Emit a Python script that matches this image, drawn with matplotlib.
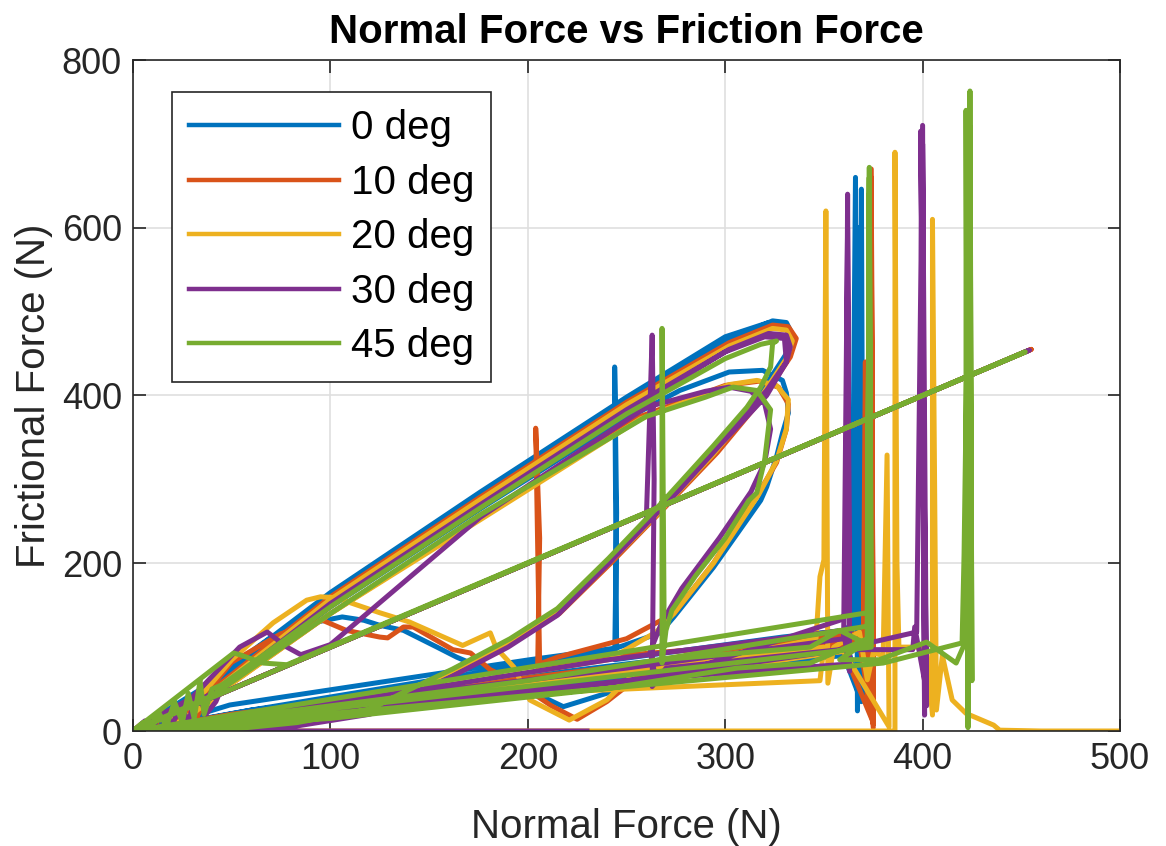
import matplotlib
matplotlib.use('Agg')
import matplotlib.pyplot as plt

plt.rcParams['font.family'] = ['Liberation Sans', 'DejaVu Sans']

# ---- data, Normal force (N) vs friction force (N) ----
labels = ['0 deg', '10 deg', '20 deg', '30 deg', '45 deg']
colors = ['#0072BD', '#D95319', '#EDB120', '#7E2F8E', '#77AC30']

deg0_x = [0, 6, 10, 16, 22, 28, 33, 38,
          45, 100, 176, 250, 302, 324, 331, 334, 331, 318, 294, 267, 241, 215, 191, 162, 137, 120, 83, 49, 20,
          30, 50, 70, 91, 106, 117, 125, 137, 154, 164, 176, 193, 218, 240, 255,
          300, 340, 364, 366, 367, 368, 369, 370, 362,
          241, 100, 30, 5,
          25, 45, 100, 176, 240, 277, 302, 319, 329, 331, 332, 329, 326, 321, 318, 294, 274, 267,
          240, 150, 60, 10,
          49, 201, 245, 244, 245, 244,
          329, 360, 366, 367, 368, 362, 241, 120, 0,
          453, 0,
          60, 250, 364, 368, 369, 360, 150, 0,
          40, 100, 176, 250, 300, 322, 330, 333, 330, 318, 294, 267, 241, 215, 191, 162, 137, 100, 0]
deg0_y = [0, 10, 2, 18, 6, 26, 12, 40,
          60, 163, 282, 396, 467, 489, 487, 473, 450, 403, 335, 267, 204, 144, 108, 73, 45, 25, 10, 2, 0,
          22, 78, 112, 129, 136, 132, 126, 120, 100, 88, 76, 57, 29, 45, 70,
          88, 104, 112, 660, 24, 200, 646, 41, 95,
          62, 22, 5, 0,
          20, 50, 148, 265, 360, 406, 428, 430, 418, 403, 379, 355, 327, 291, 275, 195, 136, 117,
          95, 60, 25, 3,
          31, 85, 99, 434, 260, 85,
          112, 120, 130, 600, 50, 100, 70, 35, 0,
          453, 0,
          25, 80, 110, 600, 35, 90, 40, 0,
          58, 165, 285, 398, 470, 487, 484, 470, 440, 400, 332, 264, 201, 141, 105, 70, 42, 18, 0]

deg10_x = [0, 5, 9, 14, 19, 25, 31, 36,
           45, 100, 176, 250, 302, 324, 332, 336, 333, 320, 296, 268, 242, 216, 190, 160, 135, 118, 80, 45, 15,
           30, 50, 75, 96, 108, 125, 129, 137, 142, 162, 171, 181, 195, 212, 225, 240, 258,
           320, 362, 370, 371, 372, 374, 375, 372,
           241, 120, 40, 0,
           40, 100, 176, 257, 300, 317, 327, 332, 331, 326, 316, 294, 274, 250, 215,
           206, 204, 206, 205,
           247, 300, 360, 372, 374, 375, 368, 241, 100, 0,
           455, 0,
           50, 250, 370, 374, 375, 360, 200, 0]
deg10_y = [0, 6, 1, 16, 4, 22, 9, 35,
           58, 160, 279, 392, 463, 484, 482, 468, 446, 400, 332, 263, 200, 140, 104, 70, 43, 24, 9, 2, 0,
           25, 82, 116, 132, 120, 112, 111, 124, 124, 97, 93, 73, 57, 30, 14, 35, 68,
           92, 108, 112, 440, 30, 670, 4, 100,
           70, 38, 12, 0,
           40, 140, 255, 375, 412, 417, 410, 390, 360, 320, 280, 200, 140, 110, 88,
           80, 361, 230, 76,
           90, 100, 114, 118, 660, 8, 105, 73, 30, 0,
           455, 0,
           20, 78, 116, 600, 10, 95, 55, 0]

deg20_x = [0, 4, 8, 13, 18, 24, 29, 34, 37,
           45, 100, 176, 250, 302, 324, 331, 334, 331, 318, 294, 267, 241, 215, 190, 160, 135, 118, 80, 45, 15,
           30, 45, 100, 176, 257, 302, 316, 326, 332, 331, 326, 317, 294, 274, 265,
           241, 120, 0,
           30, 50, 71, 88, 95, 103, 110, 125, 140, 167, 181, 184, 193, 198, 201, 221, 240, 257,
           326, 346, 348, 350, 351, 352, 355, 368, 372, 375, 380, 382, 383,
           360, 241, 100, 0,
           452, 0,
           60, 250, 350, 348, 200, 0,
           386, 386, 387, 388, 402, 405, 405, 407, 410, 415, 422, 436, 439, 460, 500]
deg20_y = [0, 8, 2, 20, 6, 28, 12, 40, 22,
           55, 157, 276, 389, 459, 480, 478, 465, 444, 398, 330, 262, 200, 140, 104, 70, 42, 23, 8, 1, 0,
           20, 48, 140, 252, 372, 413, 418, 412, 395, 360, 322, 282, 200, 140, 118,
           85, 40, 0,
           30, 85, 129, 156, 160, 159, 153, 141, 130, 102, 117, 99, 76, 51, 37, 13, 37, 76,
           100, 110, 184, 204, 620, 57, 100, 118, 61, 93, 90, 329, 5,
           95, 55, 18, 0,
           452, 0,
           18, 70, 100, 60, 45, 0,
           0, 690, 200, 100, 100, 19, 610, 25, 90, 37, 21, 7, 1, 0, 0]

deg30_x = [0, 6, 10, 15, 20, 24, 28, 33, 37, 42,
           45, 100, 176, 250, 302, 322, 331, 333, 331, 321, 297, 277, 260,
           262, 263, 264, 263, 270,
           358, 397, 400, 401, 399, 402, 400, 401, 396, 395,
           360, 241, 100, 0,
           30, 54, 68, 78, 85, 100, 176, 260, 290, 302, 313, 320, 323, 320, 313, 297, 278, 268, 262, 265,
           358, 361, 362, 363, 360,
           241, 120, 0,
           45, 100, 176, 250, 300, 320, 330, 331, 321, 297, 277, 241, 215, 190, 160, 137, 120, 83, 49, 0,
           454, 0,
           50, 250, 360, 362, 363, 250, 0, 230]
deg30_y = [0, 12, 4, 25, 8, 30, 12, 45, 20, 35,
           52, 152, 270, 383, 455, 474, 472, 458, 440, 406, 343, 291, 250,
           394, 472, 300, 53, 75,
           97, 118, 722, 19, 715, 30, 700, 60, 124, 97,
           97, 57, 15, 0,
           40, 100, 118, 100, 91, 103, 255, 386, 405, 410, 405, 390, 360, 320, 285, 230, 170, 130, 95, 60,
           132, 140, 640, 71, 120,
           85, 40, 0,
           50, 150, 268, 380, 452, 470, 468, 440, 400, 340, 288, 200, 138, 100, 63, 38, 20, 6, 0, 0,
           454, 0,
           18, 75, 110, 600, 80, 60, 0, 0]

deg45_x = [0, 5, 9, 13, 17, 21, 25, 28, 31, 34, 36, 40,
           45, 100, 176, 250, 300, 318, 326, 324, 323, 318, 311, 294, 267, 241, 215, 191, 162, 137, 120, 83, 49, 10,
           0, 40, 100, 176, 260, 290, 304, 316, 323, 320, 316, 312, 300, 285, 273, 270, 268, 268, 269, 268,
           343, 358, 368, 372, 373, 374, 358, 378, 402, 417, 422, 422, 423, 424, 425, 424, 421, 420,
           380, 241, 120, 0,
           372, 373, 372, 343, 306, 241.6, 100, 0,
           200, 372, 373, 374, 300, 0,
           40, 51, 54, 66, 78, 452, 0]
deg45_y = [0, 10, 3, 22, 6, 35, 10, 45, 15, 60, 20, 50,
           55, 148, 266, 378, 444, 461, 465, 462, 434, 410, 386, 340, 270, 206, 146, 110, 74, 46, 26, 10, 2, 0,
           0, 42, 140, 258, 375, 398, 410, 406, 383, 323, 284, 275, 230, 185, 144, 120, 81, 480, 150, 85,
           100, 120, 108, 102, 672, 110, 85, 85, 106, 81, 108, 740, 4, 763, 60, 720, 210, 105,
           81, 51, 25, 0,
           141, 660, 110, 81, 75, 51, 15, 0,
           60, 125, 640, 100, 80, 0,
           73, 93, 91, 81, 79, 452, 0]

series_x = [deg0_x, deg10_x, deg20_x, deg30_x, deg45_x]
series_y = [deg0_y, deg10_y, deg20_y, deg30_y, deg45_y]

# ---- figure ----
W, H = 1166, 846
fig = plt.figure(figsize=(W / 100, H / 100), dpi=100)
ax = fig.add_axes([133 / W, 1 - 731 / H, (1120 - 133) / W, (731 - 60) / H])

for xs, ys, c, lab in zip(series_x, series_y, colors, labels):
    ax.plot(xs, ys, color=c, linewidth=3.6, label=lab, solid_joinstyle='round')

ax.set_xlim(0, 500)
ax.set_ylim(0, 800)
ax.set_xticks([0, 100, 200, 300, 400, 500])
ax.set_yticks([0, 200, 400, 600, 800])
ax.grid(True, color='#dfdfdf', linewidth=1.2)
ax.set_axisbelow(True)
for s in ax.spines.values():
    s.set_color('#262626')
    s.set_linewidth(1.2)
ax.tick_params(direction='in', length=9, width=1.2, top=True, right=True,
               labelsize=26, colors='#262626', pad=8)

ax.set_xlabel('Normal Force (N)', fontsize=29, color='#262626', labelpad=22)
ax.set_ylabel('Frictional Force (N)', fontsize=29, color='#262626', labelpad=6)
ax.set_title('Normal Force vs Friction Force', fontsize=29, fontweight='bold', pad=12)

leg = ax.legend(loc='upper left', bbox_to_anchor=(0.0395, 0.952), fontsize=29,
                frameon=True, fancybox=False, edgecolor='#262626', framealpha=1,
                handlelength=3.72, handletextpad=0.3, borderpad=0.42, labelspacing=0.41,
                borderaxespad=0)
leg.get_frame().set_linewidth(1.2)
for line in leg.get_lines():
    line.set_linewidth(3.2)

fig.savefig('out.png', dpi=100)
